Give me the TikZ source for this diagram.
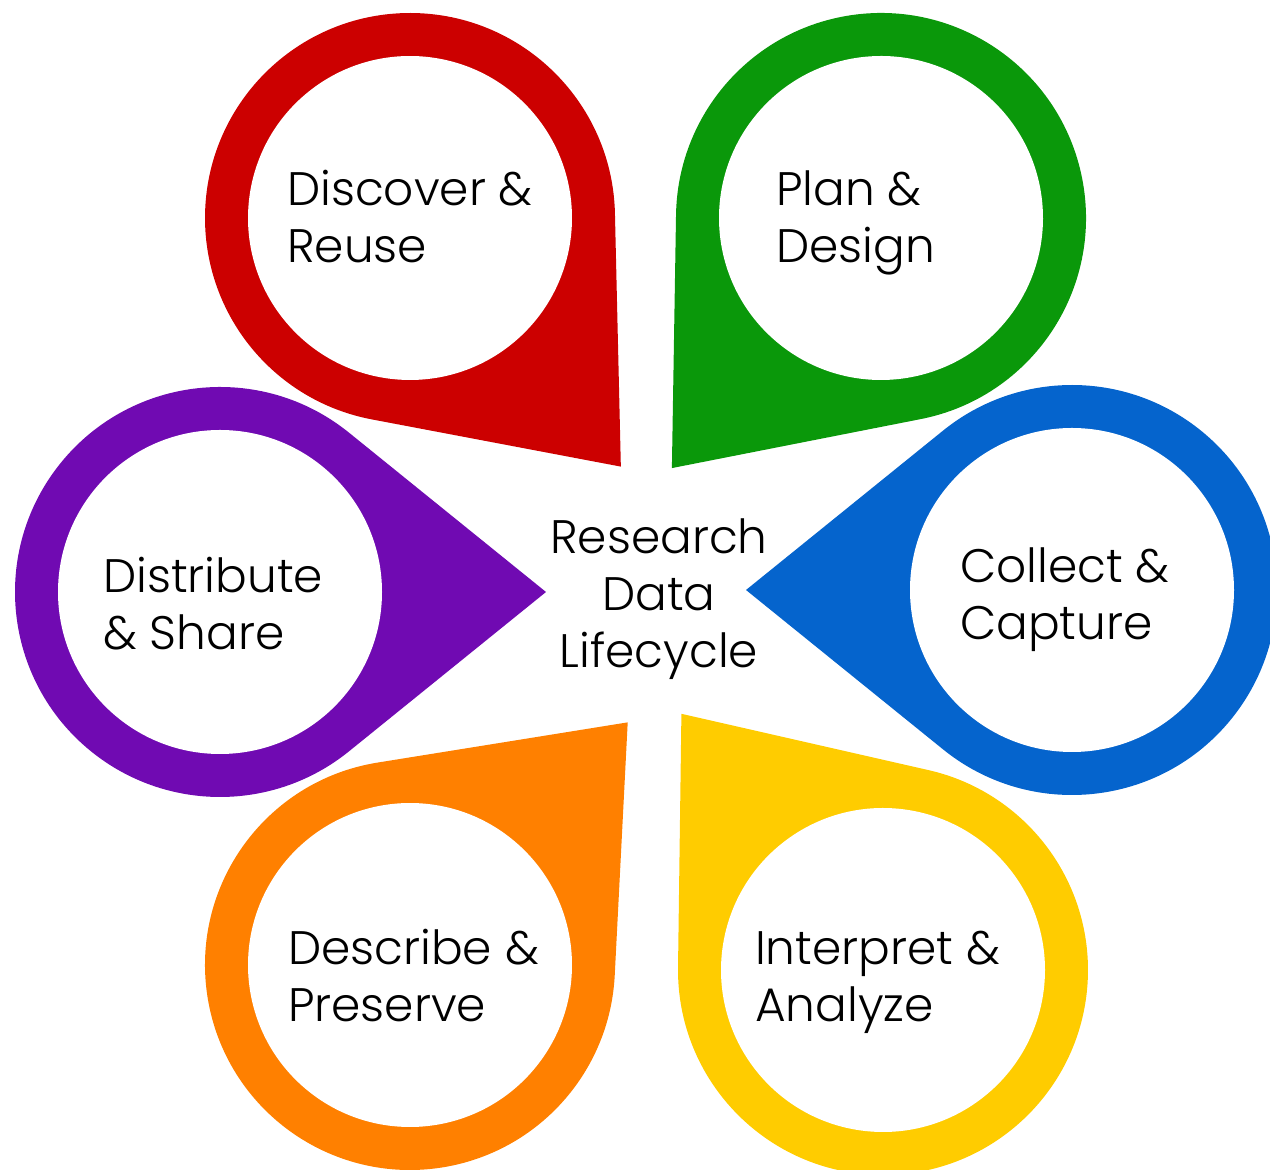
\documentclass[tikz,border=0pt]{standalone}
\usepackage{fontspec}
\setmainfont{Poppins Light}
\usepackage{tikz}

\definecolor{pinred}{RGB}{204,0,0}
\definecolor{pingreen}{RGB}{10,152,10}
\definecolor{pinblue}{RGB}{5,100,205}
\definecolor{pinyellow}{RGB}{255,204,0}
\definecolor{pinorange}{RGB}{255,128,0}
\definecolor{pinpurple}{RGB}{112,10,178}

\begin{document}
\begin{tikzpicture}[%
            x=1pt, y=1pt,
            droplet/.pic={
                \fill[pic actions] (326,0) -- (51:205)
                    arc[start angle=51, end angle=309, radius=205] -- cycle;
                \fill[white] (0,0) circle[radius=162];
            },
            stage/.style={align=left, anchor=base west, inner sep=0pt,
                font=\fontsize{47}{57}\selectfont},
        ]
        \useasboundingbox (0,0) rectangle (1270,1170);

        \pic[fill=pinred, rotate=-49.7] (reusepin) at (410,952) {droplet};
        \pic[fill=pingreen, rotate=230.1] (designpin) at (881,952) {droplet};
        \pic[fill=pinblue, rotate=180] (capturepin) at (1072,580) {droplet};
        \pic[fill=pinyellow, rotate=128.2] (analyzepin) at (883,200) {droplet};
        \pic[fill=pinorange, rotate=48.1] (preservepin) at (410,205) {droplet};
        \pic[fill=pinpurple, rotate=0] (sharepin) at (220,578) {droplet};

        \node[stage] (reuse) at (287,907) {Discover \&\\Reuse};
        \node[stage] (design) at (776,907) {Plan \&\\Design};
        \node[stage] (capture) at (960,530) {Collect \&\\Capture};
        \node[stage] (analyze) at (755,148) {Interpret \&\\Analyze};
        \node[stage] (preserve) at (288,148) {Describe \&\\Preserve};
        \node[stage] (share) at (103,520) {Distribute\\\& Share};

        \node[stage, align=center, anchor=base] (lifecycle) at (659,502) {Research\\Data\\Lifecycle};
    \end{tikzpicture}
\end{document}
